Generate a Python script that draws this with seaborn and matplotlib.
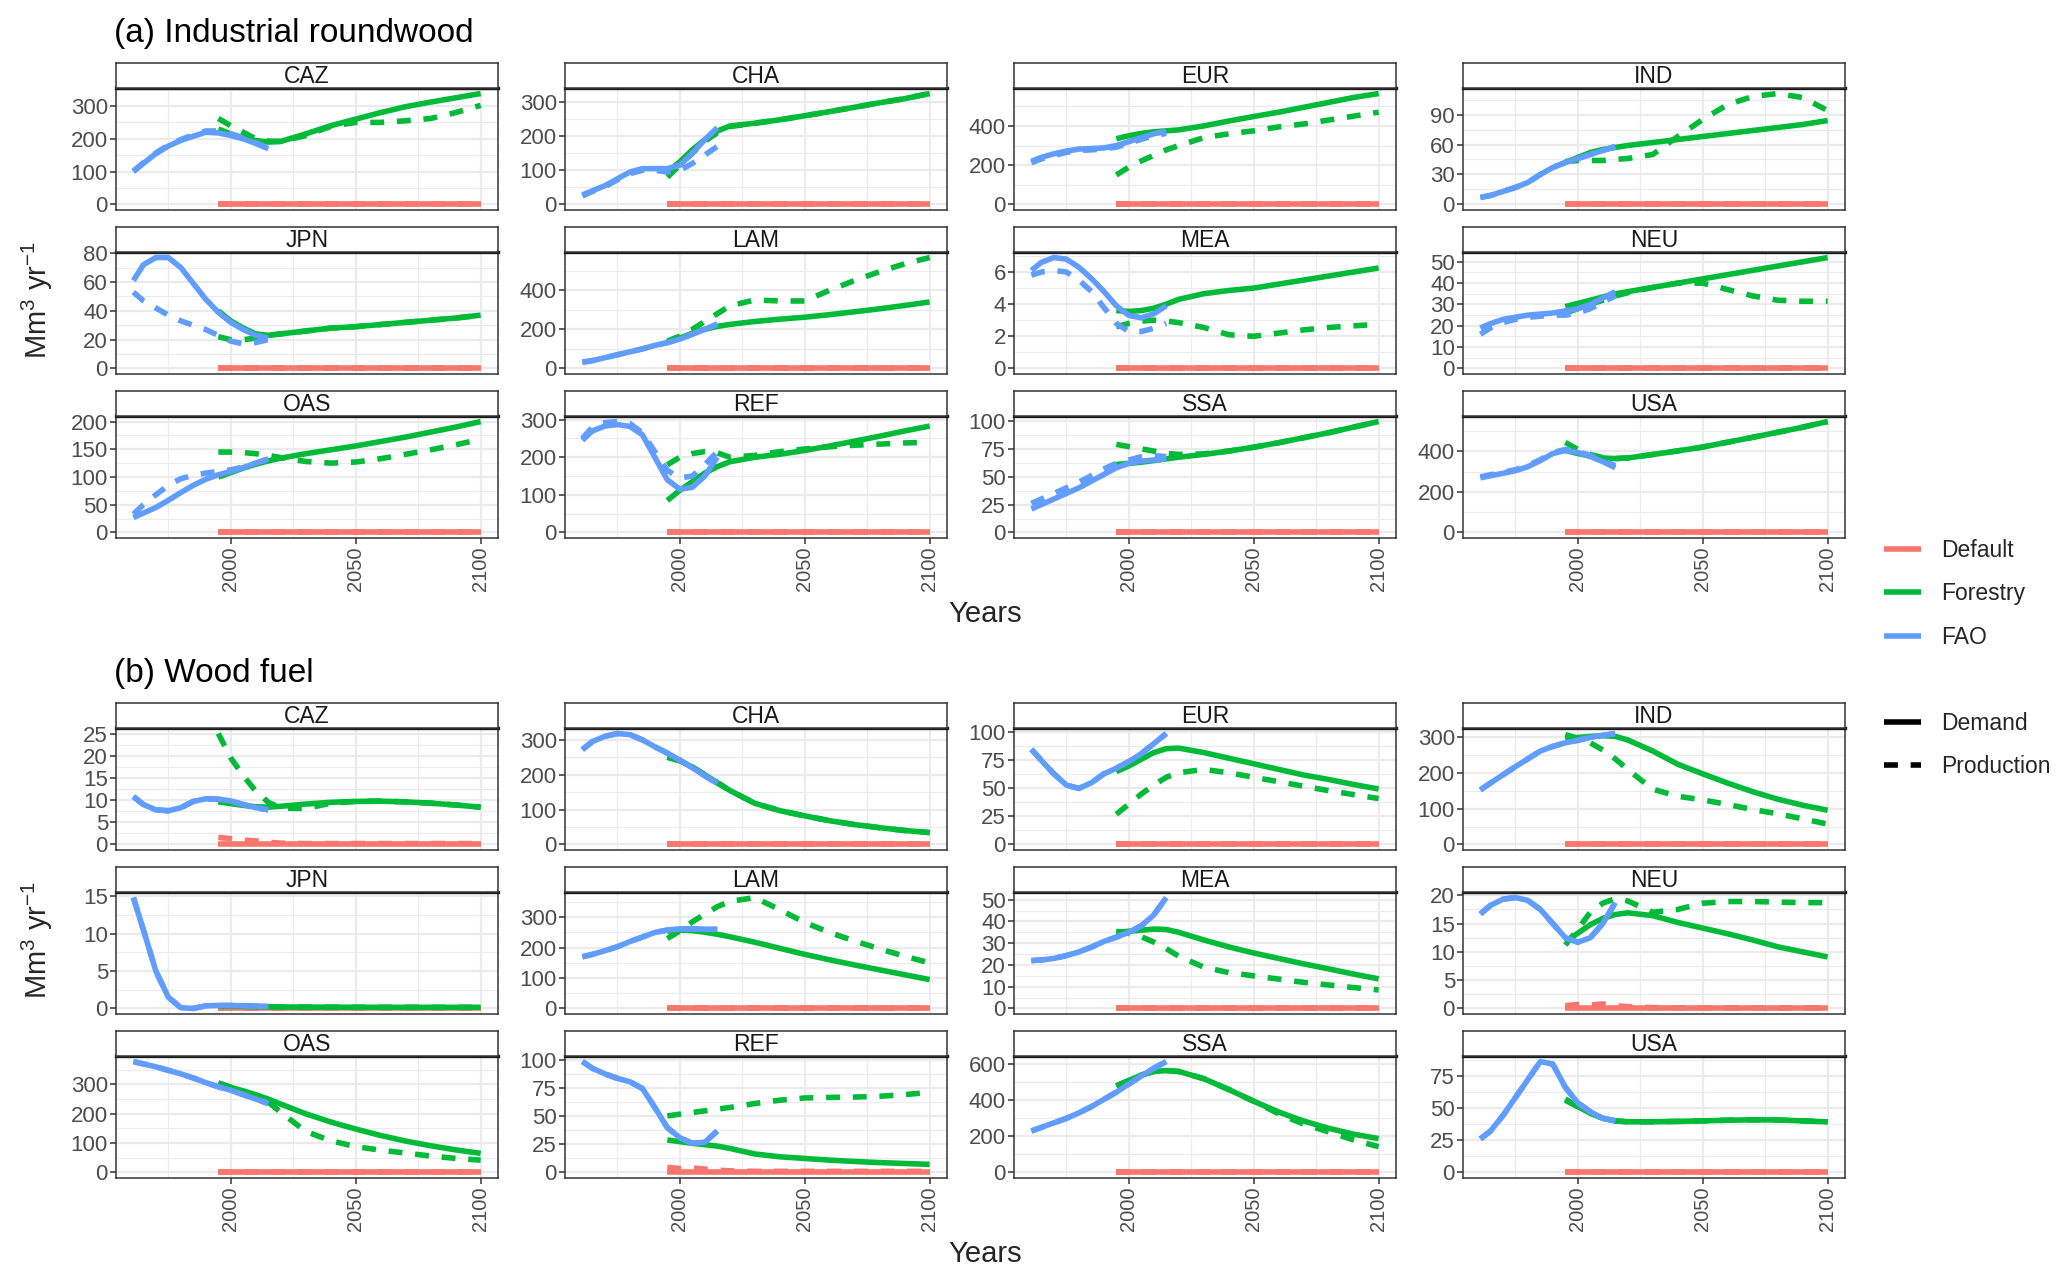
import numpy as np
import pandas as pd
import matplotlib.pyplot as plt
import seaborn as sns
from matplotlib.ticker import MultipleLocator, AutoMinorLocator
from matplotlib.lines import Line2D

sns.set_theme(style="white")
plt.rcParams['font.family'] = ['Liberation Sans', 'DejaVu Sans']
plt.rcParams['mathtext.fontset'] = 'custom'
plt.rcParams['mathtext.rm'] = 'Liberation Sans'
plt.rcParams['lines.solid_capstyle'] = 'butt'
plt.rcParams['lines.dash_capstyle'] = 'butt'

regions = ["CAZ", "CHA", "EUR", "IND", "JPN", "LAM", "MEA", "NEU", "OAS", "REF", "SSA", "USA"]
sources = ["Default", "Forestry", "FAO"]
kinds = ["Demand", "Production"]

fao_years = [1961, 1965, 1970, 1975, 1980, 1985, 1990, 1995, 2000, 2005, 2010, 2015]
model_years = [1995, 2000, 2005, 2010, 2015, 2020, 2030, 2040, 2050, 2060, 2070, 2080, 2090, 2100]

# (a) Industrial roundwood
ir_fao_dem = {
    "CAZ": [100, 125, 155, 178, 195, 208, 220, 218, 210, 200, 186, 170],
    "CHA": [28, 40, 55, 75, 95, 105, 105, 105, 115, 150, 190, 225],
    "EUR": [220, 240, 258, 272, 282, 285, 288, 300, 320, 340, 360, 372],
    "IND": [7, 9, 13, 17, 22, 30, 37, 42, 46, 50, 54, 58],
    "JPN": [61, 72, 77, 77, 70, 59, 48, 39, 32, 27, 23, 21],
    "LAM": [32, 40, 55, 70, 85, 100, 118, 132, 150, 175, 200, 228],
    "MEA": [6.1, 6.6, 6.9, 6.8, 6.3, 5.6, 4.8, 3.9, 3.3, 3.15, 3.4, 3.9],
    "NEU": [19, 21, 23, 24, 25, 25.5, 26, 27, 28, 30, 33, 36],
    "OAS": [27, 35, 45, 58, 72, 85, 96, 104, 110, 117, 125, 133],
    "REF": [245, 270, 283, 287, 282, 260, 200, 140, 115, 120, 150, 200],
    "SSA": [21, 25, 30, 35, 40, 46, 52, 58, 62, 64, 65, 66],
    "USA": [270, 280, 292, 305, 325, 355, 390, 405, 395, 375, 350, 320],
}
ir_fao_prod = {
    "CAZ": [102, 127, 157, 181, 198, 212, 224, 224, 215, 203, 188, 172],
    "CHA": [25, 38, 52, 72, 90, 100, 100, 95, 100, 120, 145, 170],
    "EUR": [212, 232, 250, 265, 275, 278, 282, 292, 312, 332, 350, 362],
    "IND": [7, 9, 13, 17, 22, 30, 37, 42, 46, 50, 54, 58],
    "JPN": [53, 47, 42, 37, 33, 30, 27, 23, 19, 17, 18, 20],
    "LAM": [32, 40, 55, 70, 85, 100, 118, 132, 150, 175, 200, 225],
    "MEA": [5.8, 6.0, 6.1, 6.0, 5.5, 4.8, 3.8, 2.8, 2.3, 2.3, 2.5, 2.8],
    "NEU": [16, 19, 21.5, 23, 24, 24.5, 25, 25, 26, 28, 31, 34],
    "OAS": [33, 50, 68, 85, 97, 103, 107, 110, 113, 118, 125, 132],
    "REF": [250, 280, 292, 295, 290, 265, 215, 165, 145, 150, 180, 215],
    "SSA": [26, 30, 35, 40, 45, 51, 57, 62, 65, 68, 69, 68],
    "USA": [275, 285, 297, 310, 330, 360, 395, 410, 400, 380, 355, 330],
}
ir_for_dem = {
    "CAZ": [230, 215, 202, 195, 190, 192, 215, 240, 260, 280, 298, 312, 325, 338],
    "CHA": [95, 125, 160, 190, 215, 230, 238, 248, 260, 272, 285, 298, 310, 325],
    "EUR": [335, 350, 362, 370, 375, 380, 400, 425, 448, 470, 495, 520, 545, 565],
    "IND": [42, 47, 52, 55, 57, 59, 62, 65, 68, 71, 74, 77, 80, 84],
    "JPN": [40, 33, 28, 24, 23, 24, 26, 28, 29, 30.5, 32, 33.5, 35, 37],
    "LAM": [135, 155, 180, 200, 215, 225, 240, 252, 262, 275, 290, 305, 322, 340],
    "MEA": [3.6, 3.55, 3.6, 3.75, 4.0, 4.3, 4.65, 4.85, 5.0, 5.25, 5.5, 5.75, 6.0, 6.25],
    "NEU": [29, 30.5, 32, 33.5, 35, 36, 38, 40, 42, 44, 46, 48, 50, 52],
    "OAS": [100, 108, 116, 123, 129, 134, 142, 149, 156, 164, 172, 181, 190, 200],
    "REF": [85, 112, 135, 158, 175, 188, 200, 208, 218, 230, 243, 256, 270, 283],
    "SSA": [61, 62, 63, 64.5, 66, 67.5, 70, 73, 76.5, 80.5, 85, 89.5, 94.5, 99.5],
    "USA": [405, 390, 378, 368, 365, 368, 385, 403, 422, 446, 470, 495, 520, 548],
}
ir_for_prod = {
    "CAZ": [262, 240, 220, 200, 193, 192, 210, 238, 250, 250, 255, 262, 280, 302],
    "CHA": [80, 115, 150, 185, 210, 228, 238, 248, 260, 272, 285, 298, 310, 325],
    "EUR": [150, 190, 222, 250, 278, 300, 340, 360, 375, 395, 410, 430, 450, 470],
    "IND": [43, 44, 44, 44, 45, 46, 50, 68, 85, 100, 108, 111, 107, 94],
    "JPN": [22, 20, 20, 21, 23, 24, 26, 28, 29, 30.5, 32, 33.5, 35, 37],
    "LAM": [140, 165, 200, 240, 280, 320, 350, 345, 345, 400, 450, 495, 535, 567],
    "MEA": [2.6, 2.8, 2.95, 3.0, 2.95, 2.85, 2.55, 2.1, 2.0, 2.2, 2.4, 2.55, 2.65, 2.75],
    "NEU": [26, 28, 30, 32, 34, 35.5, 38, 40, 40, 37, 34, 32, 31.5, 31.5],
    "OAS": [145, 145, 144, 142, 139, 135, 128, 125, 127, 133, 141, 149, 158, 168],
    "REF": [180, 200, 210, 215, 212, 200, 205, 215, 222, 228, 232, 235, 238, 240],
    "SSA": [79, 77, 75, 73, 71, 70, 70.5, 73, 76.5, 80.5, 85, 89.5, 94.5, 99.5],
    "USA": [445, 410, 385, 370, 365, 368, 385, 403, 422, 446, 470, 495, 520, 548],
}

# (b) Wood fuel
wf_fao_dem = {
    "CAZ": [10.8, 9.0, 7.8, 7.6, 8.3, 9.7, 10.3, 10.2, 9.8, 9.0, 8.3, 7.8],
    "CHA": [272, 295, 310, 318, 315, 300, 280, 262, 242, 220, 197, 175],
    "EUR": [85, 75, 63, 53, 50, 55, 63, 68, 74, 81, 90, 99],
    "IND": [153, 172, 195, 218, 240, 262, 275, 285, 292, 300, 306, 311],
    "JPN": [14.8, 10.5, 5.0, 1.5, 0.1, 0.0, 0.35, 0.4, 0.4, 0.35, 0.3, 0.3],
    "LAM": [170, 178, 190, 203, 220, 235, 250, 258, 262, 262, 261, 260],
    "MEA": [22, 22.3, 23, 24.3, 26, 28.2, 30.8, 32.8, 35, 38, 43, 51],
    "NEU": [16.7, 18.2, 19.3, 19.6, 19.1, 17.5, 15, 12.5, 11.7, 12.5, 15, 18.7],
    "OAS": [378, 370, 360, 348, 336, 322, 306, 292, 280, 265, 250, 235],
    "REF": [99, 93, 88, 84, 81, 75, 58, 40, 31, 26, 27, 37],
    "SSA": [230, 250, 275, 300, 330, 365, 405, 445, 490, 535, 578, 615],
    "USA": [26, 32, 44, 58, 72, 86, 84, 66, 54, 47, 42, 40],
}
# FAO wood fuel production lies on top of demand
wf_fao_prod = wf_fao_dem
wf_for_dem = {
    "CAZ": [9.6, 9.2, 8.8, 8.5, 8.4, 8.6, 9.1, 9.5, 9.7, 9.75, 9.6, 9.3, 8.9, 8.4],
    "CHA": [250, 240, 222, 200, 177, 155, 118, 97, 82, 68, 57, 48, 40, 34],
    "EUR": [65, 70, 76, 82, 85.5, 86, 82, 77, 72, 67, 62, 58, 53.5, 49.5],
    "IND": [295, 300, 303, 305, 303, 293, 262, 225, 198, 172, 148, 127, 110, 96],
    "JPN": [0.3, 0.3, 0.28, 0.25, 0.22, 0.2, 0.18, 0.17, 0.16, 0.15, 0.15, 0.15, 0.15, 0.15],
    "LAM": [253, 258, 256, 251, 244, 236, 218, 198, 178, 160, 143, 127, 111, 95],
    "MEA": [35, 35.5, 36, 36.5, 36.3, 35, 31.5, 28.3, 25.5, 23, 20.5, 18.2, 15.8, 13.6],
    "NEU": [11.8, 13.3, 14.8, 15.9, 16.6, 16.9, 16.4, 15.2, 14.2, 13.2, 12.1, 10.9, 10.0, 9.1],
    "OAS": [305, 290, 278, 265, 250, 233, 200, 172, 148, 126, 107, 91, 77, 65],
    "REF": [29, 27.5, 26, 24.8, 23.5, 21.5, 16.5, 14, 12.5, 11, 9.8, 8.8, 8, 7.2],
    "SSA": [480, 510, 540, 560, 565, 560, 520, 460, 395, 335, 285, 245, 212, 188],
    "USA": [56, 51, 46, 42, 40, 39.3, 39.3, 39.6, 40, 40.5, 40.8, 40.7, 40, 39.2],
}
wf_for_prod = {
    "CAZ": [25, 19.5, 15.5, 12, 9.5, 8.2, 8.1, 9.3, 9.7, 9.75, 9.6, 9.3, 8.9, 8.4],
    "CHA": [250, 240, 222, 200, 177, 155, 118, 97, 82, 68, 57, 48, 40, 34],
    "EUR": [27, 36, 45, 53, 60, 64, 67, 64, 60, 56, 52, 48, 44.5, 41],
    "IND": [308, 298, 285, 265, 240, 210, 155, 135, 125, 112, 98, 86, 72, 57],
    "JPN": [0.3, 0.3, 0.28, 0.25, 0.22, 0.2, 0.18, 0.17, 0.16, 0.15, 0.15, 0.15, 0.15, 0.15],
    "LAM": [230, 255, 285, 310, 335, 352, 365, 325, 283, 250, 222, 196, 172, 150],
    "MEA": [35.5, 34.5, 33, 30.5, 27.5, 24, 19, 16.5, 15, 13.5, 12, 10.8, 9.6, 8.5],
    "NEU": [11.2, 14, 17, 18.6, 19.4, 19, 17, 17.5, 18.6, 18.9, 18.9, 18.8, 18.7, 18.7],
    "OAS": [305, 290, 275, 258, 240, 205, 140, 108, 88, 76, 66, 56, 48, 42],
    "REF": [50.5, 52, 53.5, 55, 56.5, 58, 61.5, 64.5, 66.5, 67, 67.3, 68, 69.5, 71.5],
    "SSA": [480, 510, 540, 560, 565, 560, 520, 460, 395, 325, 268, 225, 180, 143],
    "USA": [57, 51, 46, 42, 40, 39.3, 39.3, 39.6, 40, 40.5, 40.8, 40.7, 40, 39.2],
}

default_zero = [0, 0, 0, 0, 0, 0, 0, 0, 0, 0, 0, 0, 0, 0]
wf_def_prod = {
    "CAZ": [1.6, 1.3, 1.0, 0.8, 0.5, 0.3, 0.2, 0.2, 0.2, 0.2, 0.2, 0.2, 0.2, 0.2],
    "NEU": [0.5, 0.7, 0.6, 0.8, 0.5, 0.3, 0.15, 0.1, 0.1, 0.1, 0.1, 0.1, 0.1, 0.1],
    "REF": [4.5, 3.5, 4.0, 3.0, 2.0, 1.5, 1.0, 1.0, 1.0, 1.0, 1.0, 1.0, 1.0, 1.0],
}

# y tick steps per facet
ir_ystep = [100, 100, 200, 30, 20, 200, 2, 10, 50, 100, 25, 200]
wf_ystep = [5, 100, 25, 100, 5, 100, 10, 5, 100, 25, 200, 25]

palette = {"Default": "#F8766D", "Forestry": "#00BA38", "FAO": "#619CFF"}
dash_map = {"Demand": "", "Production": (2.5, 2.3)}
LW = 4.0

W, H = 2067, 1282
fig = plt.figure(figsize=(W / 100, H / 100), dpi=100)

col_left = [116, 565, 1014, 1463]
panel_w = 382
panel_h = 122
strip_h = 25
row_top = [88, 252, 416]


def panel_frame(reg, fao_dem, fao_prod, for_dem, for_prod, def_prod):
    rows = []
    for y, v in zip(model_years, default_zero):
        rows.append((y, v, "Default", "Demand"))
    for y, v in zip(model_years, def_prod.get(reg, default_zero)):
        rows.append((y, v, "Default", "Production"))
    for y, v in zip(model_years, for_dem[reg]):
        rows.append((y, v, "Forestry", "Demand"))
    for y, v in zip(model_years, for_prod[reg]):
        rows.append((y, v, "Forestry", "Production"))
    for y, v in zip(fao_years, fao_dem[reg]):
        rows.append((y, v, "FAO", "Demand"))
    for y, v in zip(fao_years, fao_prod[reg]):
        rows.append((y, v, "FAO", "Production"))
    return pd.DataFrame(rows, columns=["year", "value", "source", "kind"])


def draw_part(y0, title, fao_dem, fao_prod, for_dem, for_prod, def_prod, ysteps):
    fig.text(114 / W, 1 - (y0 + 42) / H, title, fontsize=24, ha="left",
             va="baseline", color="black")
    for i, reg in enumerate(regions):
        r, c = divmod(i, 4)
        top = y0 + row_top[r]
        ax = fig.add_axes([col_left[c] / W, 1 - (top + panel_h) / H,
                           panel_w / W, panel_h / H])
        df = panel_frame(reg, fao_dem, fao_prod, for_dem, for_prod, def_prod)
        sns.lineplot(data=df, x="year", y="value", hue="source", style="kind",
                     hue_order=sources, style_order=kinds, palette=palette,
                     dashes=dash_map, linewidth=LW, estimator=None,
                     legend=False, ax=ax)
        lo, hi = df["value"].min(), df["value"].max()
        pad = 0.05 * (hi - lo)
        ax.set_ylim(lo - pad, hi + pad)
        ax.set_xlim(1961 - 6.95, 2100 + 6.95)
        ax.xaxis.set_major_locator(MultipleLocator(50))
        ax.xaxis.set_minor_locator(AutoMinorLocator(2))
        ax.yaxis.set_major_locator(MultipleLocator(ysteps[i]))
        ax.yaxis.set_minor_locator(AutoMinorLocator(2))
        ax.set_axisbelow(True)
        ax.grid(which="major", color="#EBEBEB", linewidth=1.6)
        ax.grid(which="minor", color="#EBEBEB", linewidth=0.8)
        ax.set_xlabel("")
        ax.set_ylabel("")
        for s in ax.spines.values():
            s.set_color("#333333")
            s.set_linewidth(1.1)
        ax.spines["top"].set_linewidth(2.4)
        ax.spines["top"].set_color("#1A1A1A")
        ax.tick_params(axis="y", which="major", left=True, length=4.3, width=1.1,
                       color="#333333", labelsize=16, labelcolor="#4D4D4D", pad=1.5)
        ax.tick_params(which="minor", length=0)
        if r == 2:
            ax.tick_params(axis="x", which="major", bottom=True, length=4.3,
                           width=1.1, color="#333333", labelsize=14.5,
                           labelcolor="#4D4D4D", labelrotation=90, pad=2)
        else:
            ax.tick_params(axis="x", which="major", bottom=False, labelbottom=False)
        # strip
        sax = fig.add_axes([col_left[c] / W, 1 - top / H, panel_w / W, strip_h / H])
        sax.set_xticks([])
        sax.set_yticks([])
        sax.set_facecolor("white")
        for s in sax.spines.values():
            s.set_color("#333333")
            s.set_linewidth(1.1)
        sax.text(0.5, 0.45, reg, ha="center", va="center", fontsize=16.5,
                 color="#1A1A1A", transform=sax.transAxes)
    ylab = r"Mm$^{\mathregular{3}}$ yr$^{\mathregular{-1}}$"
    fig.text(37 / W, 1 - (y0 + 300) / H, ylab, rotation=90, ha="center",
             va="center", fontsize=21)
    fig.text(985 / W, 1 - (y0 + 614) / H, "Years", ha="center", va="center",
             fontsize=21)


draw_part(0, "(a) Industrial roundwood", ir_fao_dem, ir_fao_prod,
          ir_for_dem, ir_for_prod, {}, ir_ystep)
draw_part(640, "(b) Wood fuel", wf_fao_dem, wf_fao_prod,
          wf_for_dem, wf_for_prod, wf_def_prod, wf_ystep)

# legends
src_handles = [Line2D([], [], color=palette[s], lw=LW) for s in sources]
kind_handles = [Line2D([], [], color="black", lw=LW),
                Line2D([], [], color="black", lw=LW, dashes=dash_map["Production"])]
fig.legend(src_handles, sources, loc="center left",
           bbox_to_anchor=(1884 / W, 1 - 594 / H), frameon=False,
           fontsize=16.5, handlelength=1.6, handletextpad=0.9,
           labelspacing=0.9, borderpad=0, borderaxespad=0)
fig.legend(kind_handles, kinds, loc="center left",
           bbox_to_anchor=(1884 / W, 1 - 745 / H), frameon=False,
           fontsize=16.5, handlelength=1.6, handletextpad=0.9,
           labelspacing=0.9, borderpad=0, borderaxespad=0)

fig.savefig("out.png", dpi=100)
